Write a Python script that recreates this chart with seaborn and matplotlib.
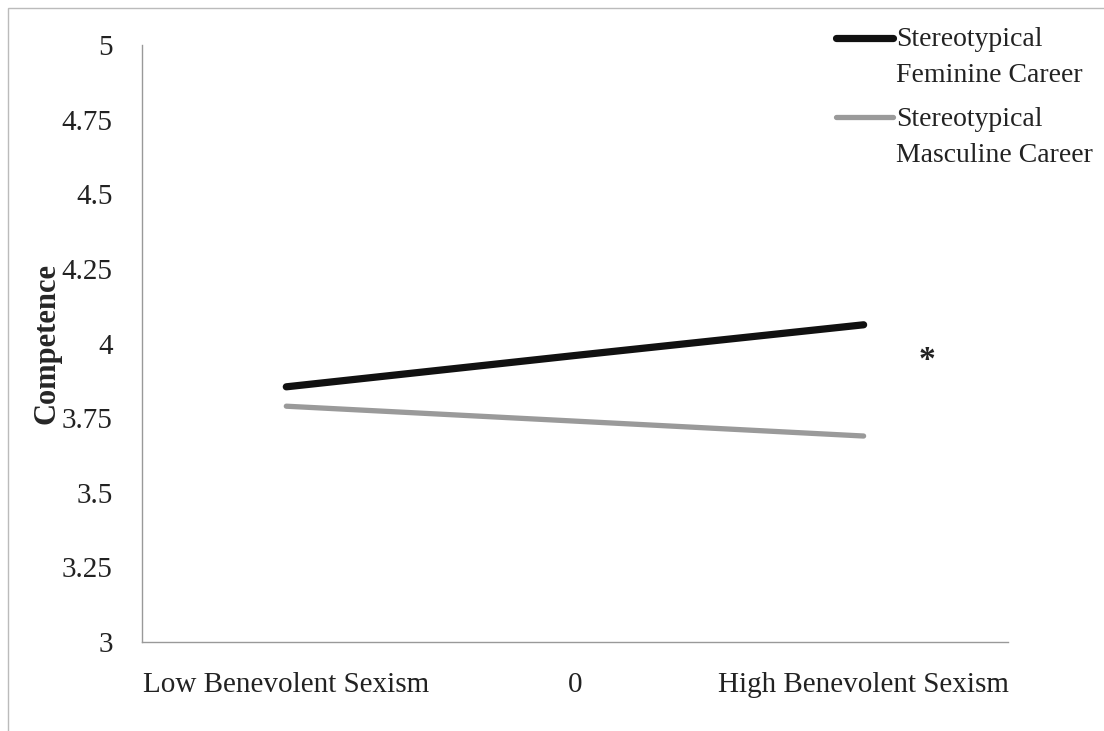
import pandas as pd
import matplotlib.pyplot as plt
import seaborn as sns
from matplotlib.lines import Line2D
from matplotlib.patches import Rectangle

# ---------- data ----------
levels = ['Low Benevolent Sexism', '0', 'High Benevolent Sexism']
feminine = [3.855, 3.96, 4.063]
masculine = [3.79, 3.74, 3.69]
series_names = ['Stereotypical\nFeminine Career', 'Stereotypical\nMasculine Career']

df = pd.DataFrame({
    'x': list(range(len(levels))) * 2,
    'Competence': feminine + masculine,
    'career': [series_names[0]] * 3 + [series_names[1]] * 3,
})

sns.set_style('white')
plt.rcParams['font.family'] = ['Liberation Serif', 'DejaVu Serif']

fig = plt.figure(figsize=(11.04, 7.31), dpi=100)
ax = fig.add_axes([0.1286, 0.122, 0.7844, 0.816])

palette = {series_names[0]: '#111111', series_names[1]: '#9a9a9a'}
sns.lineplot(data=df, x='x', y='Competence', hue='career', palette=palette,
             sort=False, legend=False, ax=ax)
ax.lines[0].set_linewidth(5.2)
ax.lines[0].set_solid_capstyle('round')
ax.lines[1].set_linewidth(3.8)

ax.set_xlim(-0.5, 2.5)
ax.set_ylim(3, 5)
ax.set_yticks([3, 3.25, 3.5, 3.75, 4, 4.25, 4.5, 4.75, 5])
ax.set_yticklabels(['3', '3.25', '3.5', '3.75', '4', '4.25', '4.5', '4.75', '5'])
ax.set_xticks(range(len(levels)))
ax.set_xticklabels(levels)
ax.set_xticks([2.5], minor=True)
ax.tick_params(axis='both', which='both', direction='out', length=4, width=1,
               color='#999999', labelsize=21, labelcolor='#222222')
ax.tick_params(axis='x', pad=18)
ax.tick_params(axis='y', pad=17)

for side in ['top', 'right']:
    ax.spines[side].set_visible(False)
for side in ['left', 'bottom']:
    ax.spines[side].set_color('#999999')
    ax.spines[side].set_linewidth(1)

ax.set_xlabel('')
ax.set_ylabel('Competence', fontsize=22, fontweight='bold', labelpad=0)

# significance marker
ax.text(2.22, 3.995, '*', fontsize=24, fontweight='bold', ha='center', va='top',
        color='#222222')

# legend drawn by hand so the swatch sits on the first text line
fig.add_artist(Line2D([836 / 1104, 893 / 1104], [1 - 38 / 731] * 2,
                      color='#111111', lw=5.2, solid_capstyle='round'))
fig.add_artist(Line2D([836 / 1104, 893 / 1104], [1 - 117 / 731] * 2,
                      color='#9a9a9a', lw=3.8))
for label, ypix in [('Stereotypical', 40), ('Feminine Career', 75),
                    ('Stereotypical', 120), ('Masculine Career', 155)]:
    fig.text(896 / 1104, 1 - ypix / 731, label, fontsize=20, va='center',
             color='#222222')

# thin page frame
fig.add_artist(Rectangle((8 / 1104, -0.05), 1.2, 1 - 8 / 731 + 0.05,
                         transform=fig.transFigure, fill=False,
                         edgecolor='#bbbbbb', lw=1))

fig.savefig('out.png', dpi=100)
